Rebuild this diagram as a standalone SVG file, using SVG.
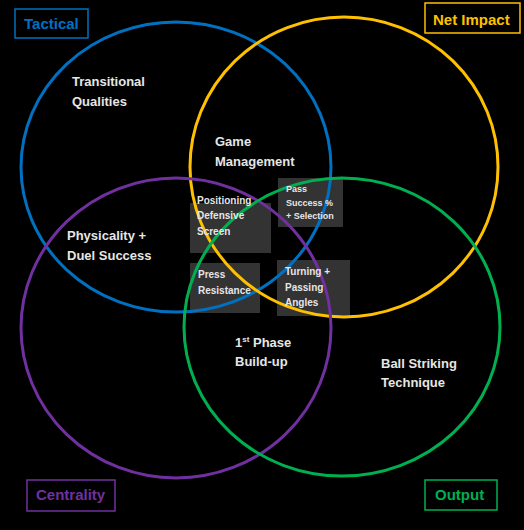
<svg xmlns="http://www.w3.org/2000/svg" width="524" height="530" viewBox="0 0 524 530">
<style>
.c{fill:none;stroke-width:3}
.lbl{font-family:"Liberation Sans",Arial,sans-serif;font-weight:bold;font-size:15px}
.t{font-family:"Liberation Sans",Arial,sans-serif;font-weight:bold;font-size:13px;fill:#E6E6E6}
.s{font-family:"Liberation Sans",Arial,sans-serif;font-weight:bold;font-size:10px;fill:#E6E6E6}
.s9{font-family:"Liberation Sans",Arial,sans-serif;font-weight:bold;font-size:9px;fill:#E6E6E6}
.box{fill:#333333}
</style>
<rect width="524" height="530" fill="#000"/>
<g id="boxes">
<rect class="box" x="190" y="203" width="81" height="50"/>
<rect class="box" x="278" y="178" width="65" height="49"/>
<rect class="box" x="190" y="263" width="70" height="50"/>
<rect class="box" x="277" y="260" width="73" height="56"/>
</g>
<g id="connectors">
<ellipse id="circle-tactical" class="c" stroke="#0070C0" cx="176" cy="167" rx="155" ry="145"/>
<ellipse id="circle-netimpact" class="c" stroke="#FFC000" cx="344" cy="167" rx="154" ry="150"/>
<ellipse id="circle-centrality" class="c" stroke="#7030A0" cx="176" cy="328" rx="155" ry="150"/>
<ellipse id="circle-output" class="c" stroke="#00B050" cx="342" cy="327" rx="158" ry="149"/>
</g>
<g id="tactical">
<rect x="15" y="9" width="73" height="29" fill="none" stroke="#0070C0" stroke-width="1.5"/>
<text class="lbl" x="24" y="29" fill="#0070C0">Tactical</text>
</g>
<g id="netimpact">
<rect x="425" y="3" width="95" height="30" fill="none" stroke="#FFC000" stroke-width="1.5"/>
<text class="lbl" x="433" y="25" fill="#FFC000">Net Impact</text>
</g>
<g id="centrality">
<rect x="27" y="480" width="88" height="31" fill="none" stroke="#7030A0" stroke-width="1.5"/>
<text class="lbl" x="36" y="500" fill="#7030A0">Centrality</text>
</g>
<g id="output">
<rect x="425" y="480" width="72" height="30" fill="none" stroke="#00B050" stroke-width="1.5"/>
<text class="lbl" x="435" y="500" fill="#00B050">Output</text>
</g>
<g id="transitional">
<text class="t" x="72" y="86">Transitional</text>
<text class="t" x="72" y="106">Qualities</text>
</g>
<g id="game-management">
<text class="t" x="215" y="146">Game</text>
<text class="t" x="215" y="166">Management</text>
</g>
<g id="physicality">
<text class="t" x="67" y="240">Physicality +</text>
<text class="t" x="67" y="260">Duel Success</text>
</g>
<g id="first-phase">
<text class="t" x="235" y="347">1<tspan font-size="8" dy="-5">st</tspan><tspan dy="5"> Phase</tspan></text>
<text class="t" x="235" y="366">Build-up</text>
</g>
<g id="ball-striking">
<text class="t" x="381" y="368">Ball Striking</text>
<text class="t" x="381" y="387">Technique</text>
</g>
<g id="positioning">
<text class="s" x="197" y="204">Positioning</text>
<text class="s" x="197" y="219">Defensive</text>
<text class="s" x="197" y="235">Screen</text>
</g>
<g id="pass-success">
<text class="s9" x="286" y="192">Pass</text>
<text class="s9" x="286" y="206">Success %</text>
<text class="s9" x="286" y="219">+ Selection</text>
</g>
<g id="press-resistance">
<text class="s" x="198" y="278">Press</text>
<text class="s" x="198" y="294">Resistance</text>
</g>
<g id="turning">
<text class="s" x="285" y="275">Turning +</text>
<text class="s" x="285" y="291">Passing</text>
<text class="s" x="285" y="306">Angles</text>
</g>
</svg>
